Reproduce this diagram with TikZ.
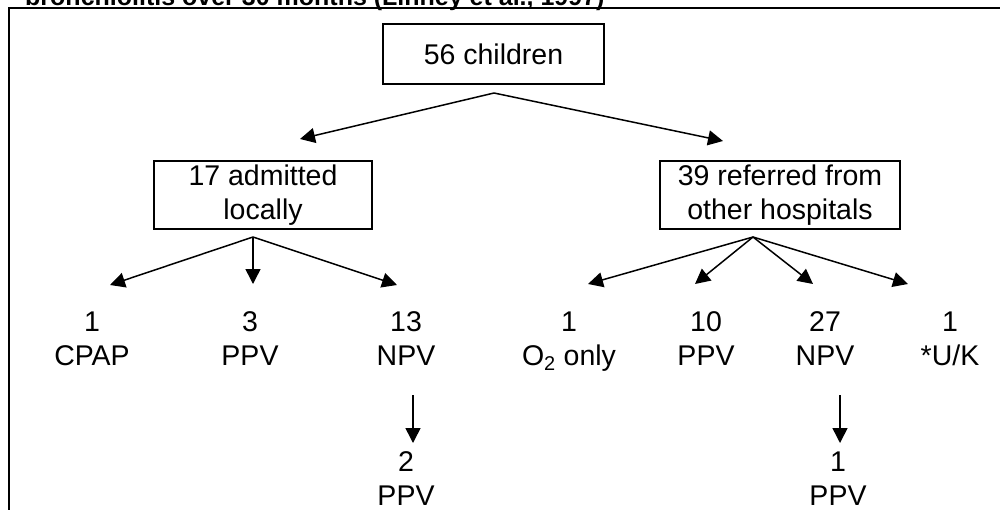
\documentclass[tikz,border=0pt]{standalone}
\usepackage{fontspec}
\setmainfont{Liberation Sans}
\usetikzlibrary{arrows.meta}
\begin{document}
\begin{tikzpicture}[x=1pt,y=-1pt,
  box/.style={draw, line width=1.8pt, inner sep=0pt, align=center, font=\fontsize{28.5}{34}\selectfont},
  leaf/.style={inner sep=0pt, align=center, anchor=base, font=\fontsize{28.5}{33.5}\selectfont},
  arr/.style={line width=1.5pt, -{Triangle[length=15pt,width=15pt]}},
  frameline/.style={line width=2pt},
  titletext/.style={inner sep=0pt, anchor=base west, font=\bfseries\fontsize{25}{29}\selectfont}]
\useasboundingbox (0,0) rectangle (1000,509);
\clip (0,0) rectangle (1000,509);
% clipped caption and frame
\node[titletext] (title) at (25,5) {bronchiolitis over 30 months (Linney et al., 1997)};
\draw[frameline] (1010,8) -- (9,8) -- (9,520);
% boxes
\node[box, minimum width=221pt, minimum height=60pt] (top) at (493.5,54) {56 children};
\node[box, minimum width=218pt, minimum height=68pt] (loc) at (263,195) {17 admitted\\locally};
\node[box, minimum width=240pt, minimum height=68pt] (ref) at (780,195) {39 referred from\\other hospitals};
% leaves (base anchor = baseline of the last line)
\node[leaf] (cpap) at (92,365) {1\\CPAP};
\node[leaf] (ppvA) at (250,365) {3\\PPV};
\node[leaf] (npvA) at (406,365) {13\\NPV};
\node[leaf] (otwo) at (569,365) {1\\O\textsubscript{2} only};
\node[leaf] (ppvB) at (706,365) {10\\PPV};
\node[leaf] (npvB) at (825,365) {27\\NPV};
\node[leaf] (unk)  at (950,365) {1\\*U/K};
\node[leaf] (ppvC) at (406,505) {2\\PPV};
\node[leaf] (ppvD) at (838,505) {1\\PPV};
% split points and arrow ends
\coordinate (s0) at (494,93);
\coordinate (t1) at (300,139);
\coordinate (t2) at (723,141);
\coordinate (s1) at (253,237);
\coordinate (a1) at (110,285);
\coordinate (a2) at (253,284);
\coordinate (a3) at (397,285);
\coordinate (s2) at (753,237);
\coordinate (b1) at (588,284);
\coordinate (b2) at (695,284);
\coordinate (b3) at (813,284);
\coordinate (b4) at (908,284);
\coordinate (d1s) at (413,395);
\coordinate (d1e) at (413,443);
\coordinate (d2s) at (840,395);
\coordinate (d2e) at (840,443);
% connectors
\draw[arr] (s0) -- (t1);
\draw[arr] (s0) -- (t2);
\draw[arr] (s1) -- (a1);
\draw[arr] (s1) -- (a2);
\draw[arr] (s1) -- (a3);
\draw[arr] (s2) -- (b1);
\draw[arr] (s2) -- (b2);
\draw[arr] (s2) -- (b3);
\draw[arr] (s2) -- (b4);
\draw[arr] (d1s) -- (d1e);
\draw[arr] (d2s) -- (d2e);
\end{tikzpicture}
\end{document}
